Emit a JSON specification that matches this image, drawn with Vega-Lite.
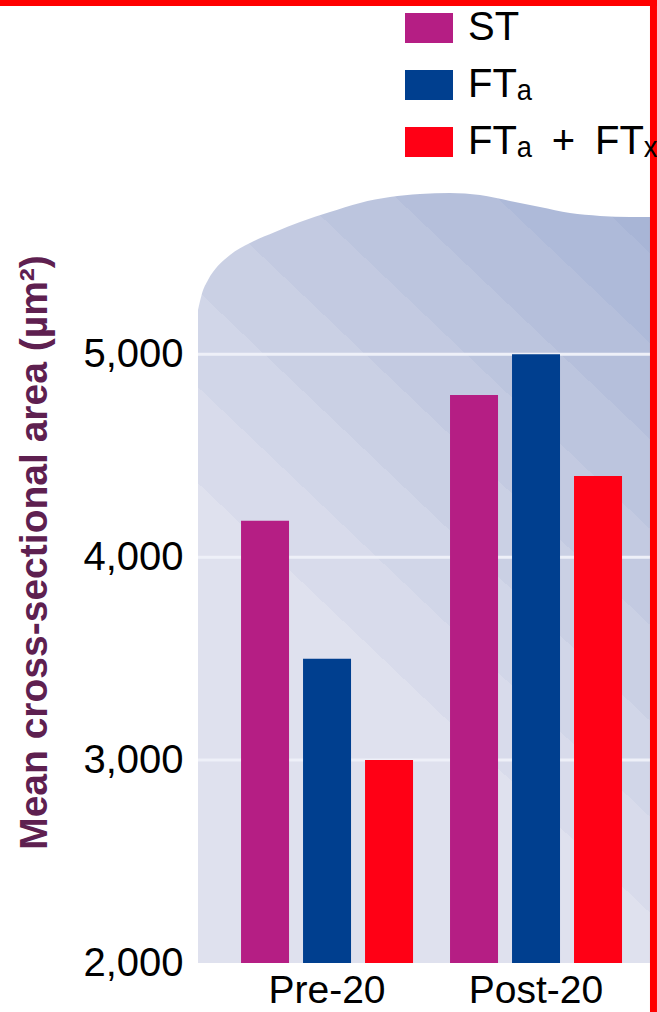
{
  "$schema": "https://vega.github.io/schema/vega-lite/v6.json",
  "width": 452,
  "height": 771,
  "autosize": {"type": "none"},
  "padding": {"left": 198, "top": 192, "right": 7, "bottom": 49},
  "background": "#ffffff",
  "config": {
    "view": {"stroke": null},
    "font": "Liberation Sans",
    "axisY": {
      "grid": false,
      "domain": false,
      "ticks": false,
      "tickSize": 0,
      "labelPadding": 15,
      "labelFont": "Liberation Sans",
      "labelFontSize": 40,
      "labelColor": "#000000",
      "titleFont": "Liberation Sans",
      "titleFontSize": 39,
      "titleFontWeight": "bold",
      "titleColor": "#5e2050",
      "titleAngle": 270,
      "titleAlign": "center",
      "titleBaseline": "alphabetic",
      "titleX": -152,
      "titleY": 360
    }
  },
  "datasets": {
    "bars": [
      {"group": "Pre-20", "fiber": "ST", "area": 4180},
      {"group": "Pre-20", "fiber": "FT\u2090", "area": 3500},
      {"group": "Pre-20", "fiber": "FT\u2090\u2002+\u2002FT\u2093", "area": 3000},
      {"group": "Post-20", "fiber": "ST", "area": 4800},
      {"group": "Post-20", "fiber": "FT\u2090", "area": 5000},
      {"group": "Post-20", "fiber": "FT\u2090\u2002+\u2002FT\u2093", "area": 4400}
    ],
    "wave": [
      {"pos": 0, "top": 5218},
      {"pos": 0.00885, "top": 5300},
      {"pos": 0.0221, "top": 5366},
      {"pos": 0.0442, "top": 5436},
      {"pos": 0.0708, "top": 5490},
      {"pos": 0.115, "top": 5549},
      {"pos": 0.1704, "top": 5603},
      {"pos": 0.2257, "top": 5652},
      {"pos": 0.292, "top": 5701},
      {"pos": 0.3584, "top": 5746},
      {"pos": 0.4248, "top": 5775},
      {"pos": 0.4912, "top": 5790},
      {"pos": 0.5575, "top": 5795},
      {"pos": 0.6239, "top": 5785},
      {"pos": 0.6903, "top": 5756},
      {"pos": 0.7566, "top": 5726},
      {"pos": 0.823, "top": 5696},
      {"pos": 0.8894, "top": 5682},
      {"pos": 0.9558, "top": 5677},
      {"pos": 1, "top": 5677}
    ],
    "grid": [{"v": 3000}, {"v": 4000}, {"v": 5000}],
    "frame": [{"edge": "frame"}]
  },
  "resolve": {"scale": {"x": "independent"}, "axis": {"x": "independent"}},
  "layer": [
    {
      "data": {"name": "wave"},
      "mark": {
        "type": "area",
        "interpolate": "monotone",
        "color": {
          "gradient": "linear",
          "x1": 0, "y1": 1, "x2": 0.663, "y2": -0.188,
          "stops": [
            {"offset": 0, "color": "#dfe1ee"}, {"offset": 0.40, "color": "#dfe1ee"},
            {"offset": 0.40, "color": "#d8dbeb"}, {"offset": 0.48, "color": "#d8dbeb"},
            {"offset": 0.48, "color": "#d1d6e8"}, {"offset": 0.56, "color": "#d1d6e8"},
            {"offset": 0.56, "color": "#cad0e4"}, {"offset": 0.64, "color": "#cad0e4"},
            {"offset": 0.64, "color": "#c3cae1"}, {"offset": 0.72, "color": "#c3cae1"},
            {"offset": 0.72, "color": "#bcc5de"}, {"offset": 0.795, "color": "#bcc5de"},
            {"offset": 0.795, "color": "#b5bfdb"}, {"offset": 0.875, "color": "#b5bfdb"},
            {"offset": 0.875, "color": "#aebad9"}, {"offset": 0.95, "color": "#aebad9"},
            {"offset": 0.95, "color": "#a8b5d6"}, {"offset": 1, "color": "#a8b5d6"}
          ]
        }
      },
      "encoding": {
        "x": {"field": "pos", "type": "quantitative", "scale": {"domain": [0, 1], "nice": false, "zero": false}, "axis": null},
        "y": {
          "field": "top", "type": "quantitative",
          "scale": {"domain": [2000, 5800], "nice": false, "zero": false},
          "axis": {"values": [2000, 3000, 4000, 5000], "format": ",.0f", "title": "Mean cross-sectional area (µm²)"}
        },
        "y2": {"datum": 2000}
      }
    },
    {
      "data": {"name": "grid"},
      "mark": {"type": "rule", "color": "#eef0f8", "strokeWidth": 3},
      "encoding": {
        "y": {
          "field": "v", "type": "quantitative",
          "scale": {"domain": [2000, 5800], "nice": false, "zero": false},
          "axis": {"values": [2000, 3000, 4000, 5000], "format": ",.0f", "title": "Mean cross-sectional area (µm²)"}
        }
      }
    },
    {
      "data": {"name": "bars"},
      "mark": {"type": "bar"},
      "encoding": {
        "x": {
          "field": "group", "type": "nominal", "sort": ["Pre-20", "Post-20"],
          "scale": {"paddingInner": 0.11, "paddingOuter": 0.1364, "align": 0.632},
          "axis": {
            "title": null, "labelAngle": 0, "domain": false, "ticks": false, "tickSize": 0,
            "labelPadding": 8, "labelFont": "Liberation Sans", "labelFontSize": 39, "labelColor": "#000000"
          }
        },
        "xOffset": {
          "field": "fiber", "type": "nominal",
          "scale": {"domain": ["ST", "FT\u2090", "FT\u2090\u2002+\u2002FT\u2093"], "paddingInner": 0.2258, "paddingOuter": 0.1129}
        },
        "y": {
          "field": "area", "type": "quantitative",
          "scale": {"domain": [2000, 5800], "nice": false, "zero": false},
          "axis": {"values": [2000, 3000, 4000, 5000], "format": ",.0f", "title": "Mean cross-sectional area (µm²)"}
        },
        "y2": {"datum": 2000},
        "color": {
          "field": "fiber", "type": "nominal",
          "scale": {"domain": ["ST", "FT\u2090", "FT\u2090\u2002+\u2002FT\u2093"], "range": ["#b51e84", "#003f8f", "#ff0015"]},
          "legend": {
            "orient": "none",
            "legendX": 207,
            "legendY": -188,
            "title": null,
            "padding": 0,
            "symbolType": "M-1,-0.625H1V0.625H-1Z",
            "symbolSize": 2304,
            "symbolStrokeWidth": 0,
            "symbolOpacity": 1,
            "labelFont": "Liberation Sans",
            "labelFontSize": 40,
            "labelColor": "#000000",
            "labelOffset": 15,
            "labelLimit": 400,
            "rowPadding": 13
          }
        }
      }
    },
    {
      "data": {"name": "frame"},
      "mark": {"type": "rule", "color": "#ff0000", "strokeWidth": 6},
      "encoding": {
        "x": {"datum": -0.44, "type": "quantitative", "scale": {"domain": [0, 1], "nice": false, "zero": false}, "axis": null},
        "x2": {"datum": 1.02},
        "y": {
          "datum": 6731, "type": "quantitative",
          "scale": {"domain": [2000, 5800], "nice": false, "zero": false},
          "axis": {"values": [2000, 3000, 4000, 5000], "format": ",.0f", "title": "Mean cross-sectional area (µm²)"}
        }
      }
    },
    {
      "data": {"name": "frame"},
      "mark": {"type": "rule", "color": "#ff0000", "strokeWidth": 7},
      "encoding": {
        "x": {"datum": 1.0077, "type": "quantitative", "scale": {"domain": [0, 1], "nice": false, "zero": false}, "axis": null},
        "y": {
          "datum": 1750, "type": "quantitative",
          "scale": {"domain": [2000, 5800], "nice": false, "zero": false},
          "axis": {"values": [2000, 3000, 4000, 5000], "format": ",.0f", "title": "Mean cross-sectional area (µm²)"}
        },
        "y2": {"datum": 6760}
      }
    }
  ]
}
